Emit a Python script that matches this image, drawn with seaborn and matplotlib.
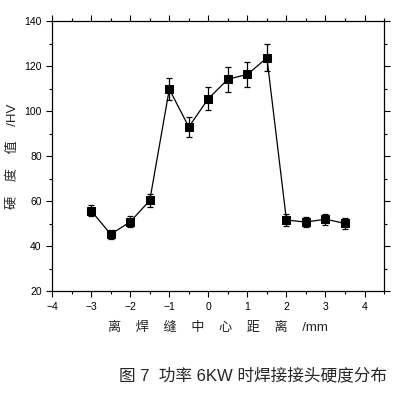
import numpy as np
import pandas as pd
import matplotlib
matplotlib.use('Agg')
import matplotlib.pyplot as plt
import seaborn as sns
from matplotlib.ticker import MultipleLocator

# distance from weld centre (mm), hardness (HV), error
distance = [-3, -2.5, -2, -1.5, -1, -0.5, 0, 0.5, 1, 1.5, 2, 2.5, 3, 3.5]
hardness = [55.7, 45.3, 50.8, 60.3, 109.8, 93.0, 105.6, 114.2, 116.4, 123.7, 51.6, 50.7, 52.0, 50.1]
error = [2.5, 2.0, 2.5, 3.0, 5.0, 4.5, 5.0, 5.5, 5.5, 6.0, 2.5, 2.3, 2.5, 2.5]

df = pd.DataFrame({'distance': distance, 'hardness': hardness, 'error': error})

sns.set_style('ticks')
plt.rcParams['font.family'] = ['Liberation Sans', 'Noto Sans CJK SC', 'DejaVu Sans']

fig = plt.figure(figsize=(3.98, 4.01), dpi=100)
ax = fig.add_axes([0.131, 0.274, 0.834, 0.673])

sns.lineplot(data=df, x='distance', y='hardness', color='black', linewidth=0.9,
             marker='s', markersize=6, markeredgecolor='black', ax=ax)
ax.errorbar(df.distance, df.hardness, yerr=df.error, fmt='none', ecolor='black',
            elinewidth=0.9, capsize=2.5, capthick=0.9)

ax.set_xlim(-4, 4.5)
ax.set_ylim(20, 140)
ax.xaxis.set_major_locator(MultipleLocator(1))
ax.xaxis.set_minor_locator(MultipleLocator(0.5))
ax.yaxis.set_major_locator(MultipleLocator(20))
ax.yaxis.set_minor_locator(MultipleLocator(10))
ax.tick_params(which='both', direction='out', top=True, right=True,
               labeltop=False, labelright=False, width=0.8, colors='black')
ax.tick_params(which='major', length=4, labelsize=7.5)
ax.tick_params(which='minor', length=2.5)
for s in ax.spines.values():
    s.set_linewidth(0.9)
    s.set_color('black')

ax.set_xlabel('离    焊    缝    中    心    距    离    /mm', fontsize=9.5, labelpad=7)
ax.set_ylabel('硬    度    值    /HV', fontsize=9.5, labelpad=4)

fig.text(0.636, 0.065, '图 7  功率 6KW 时焊接接头硬度分布', ha='center', va='center', fontsize=12)

fig.savefig('out.png', dpi=100)
